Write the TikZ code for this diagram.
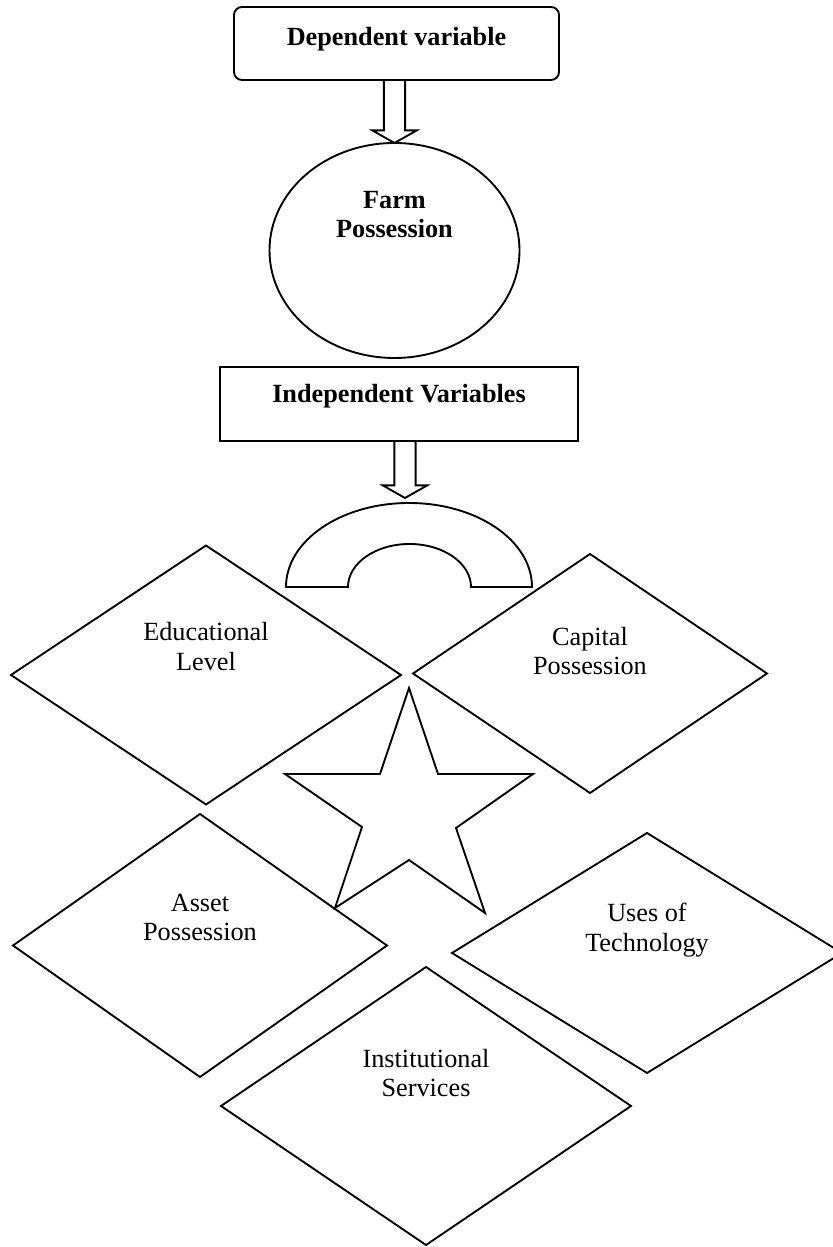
\documentclass[tikz,border=0pt]{standalone}
\usepackage{fontspec}
\setmainfont{Liberation Serif}
\usepackage{tikz}
\usetikzlibrary{shapes,calc}
\newcommand{\figfont}{\fontsize{22.4}{25}\selectfont}
\tikzstyle{block} = [rectangle, draw, line width=1.6pt, outer sep=0pt, inner sep=0pt, font=\figfont\bfseries, text height=15.1pt]
\tikzstyle{cloud} = [ellipse, draw, line width=1.6pt, outer sep=0pt, inner sep=0pt, minimum width=7.5cm, minimum height=6.45cm]
\tikzstyle{factor} = [diamond, draw, line width=1.6pt, outer sep=0pt, inner sep=0pt]
\tikzstyle{shapetext} = [align=center, inner sep=0pt, font=\figfont]
\tikzstyle{line} = [draw, line width=1.6pt, line join=miter]
% hollow block arrow from the bottom of one node down to a point
\newcommand{\blockarrow}[2]{%
  \path [line] let \p1=(#1), \p2=(#2) in
    (\x2-0.32cm,\y1) -- (\x2-0.32cm,\y2+0.38cm) -- (\x2-0.67cm,\y2+0.38cm) -- (\x2,\y2)
    -- (\x2+0.67cm,\y2+0.38cm) -- (\x2+0.32cm,\y2+0.38cm) -- (\x2+0.32cm,\y1);}

\begin{document}
\begin{tikzpicture}[x=0.3mm, y=0.3mm]
			\useasboundingbox (0,0) rectangle (833,1247);
			\node [block, rounded corners=0.24cm, minimum width=9.75cm, minimum height=2.19cm, text depth=10.8pt] (dep) at (396.5,1203.5) {Dependent variable};
			\node [cloud, below of=dep, node distance=6.21cm, xshift=-0.06cm, label={[shapetext, font=\figfont\bfseries, yshift=1.08cm]center:Farm\\Possession}] (farm) {};
			\node [block, below of=farm, node distance=4.605cm, xshift=0.135cm, minimum width=10.74cm, minimum height=2.22cm, text depth=16.8pt] (indep) {Independent Variables};
			\coordinate (archtip) at (405,749);
			\blockarrow{dep.south}{farm.north}
			\blockarrow{indep.south}{archtip}
			% arch under the second arrow
			\path [line] (286,660) arc [start angle=180, end angle=0, x radius=3.69cm, y radius=2.52cm] -- (471,660)
				arc [start angle=0, end angle=180, x radius=1.845cm, y radius=1.29cm] -- cycle;
			% star in the middle
			\path [line] (409,559) -- (438,473) -- (533,473) -- (456,419) -- (485,334) -- (409,387)
				-- (335,339) -- (362,420) -- (285,473) -- (380,473) -- cycle;
			\node [factor, minimum width=11.7cm, minimum height=7.77cm, label={[shapetext, yshift=0.855cm]center:Educational\\Level}] (edu) at (206,572) {};
			\node [factor, minimum width=10.62cm, minimum height=7.17cm, label={[shapetext, yshift=0.675cm]center:Capital\\Possession}] (capital) at (590,573.5) {};
			\node [factor, minimum width=11.22cm, minimum height=7.89cm, label={[shapetext, yshift=0.84cm]center:Asset\\Possession}] (asset) at (200,301.5) {};
			\node [factor, minimum width=11.7cm, minimum height=7.2cm, label={[shapetext, yshift=0.69cm]center:Uses of\\Technology}] (tech) at (647,294) {};
			\node [factor, minimum width=12.3cm, minimum height=8.34cm, label={[shapetext, yshift=0.99cm]center:Institutional\\Services}] (inst) at (426,141) {};
\end{tikzpicture}
\end{document}
